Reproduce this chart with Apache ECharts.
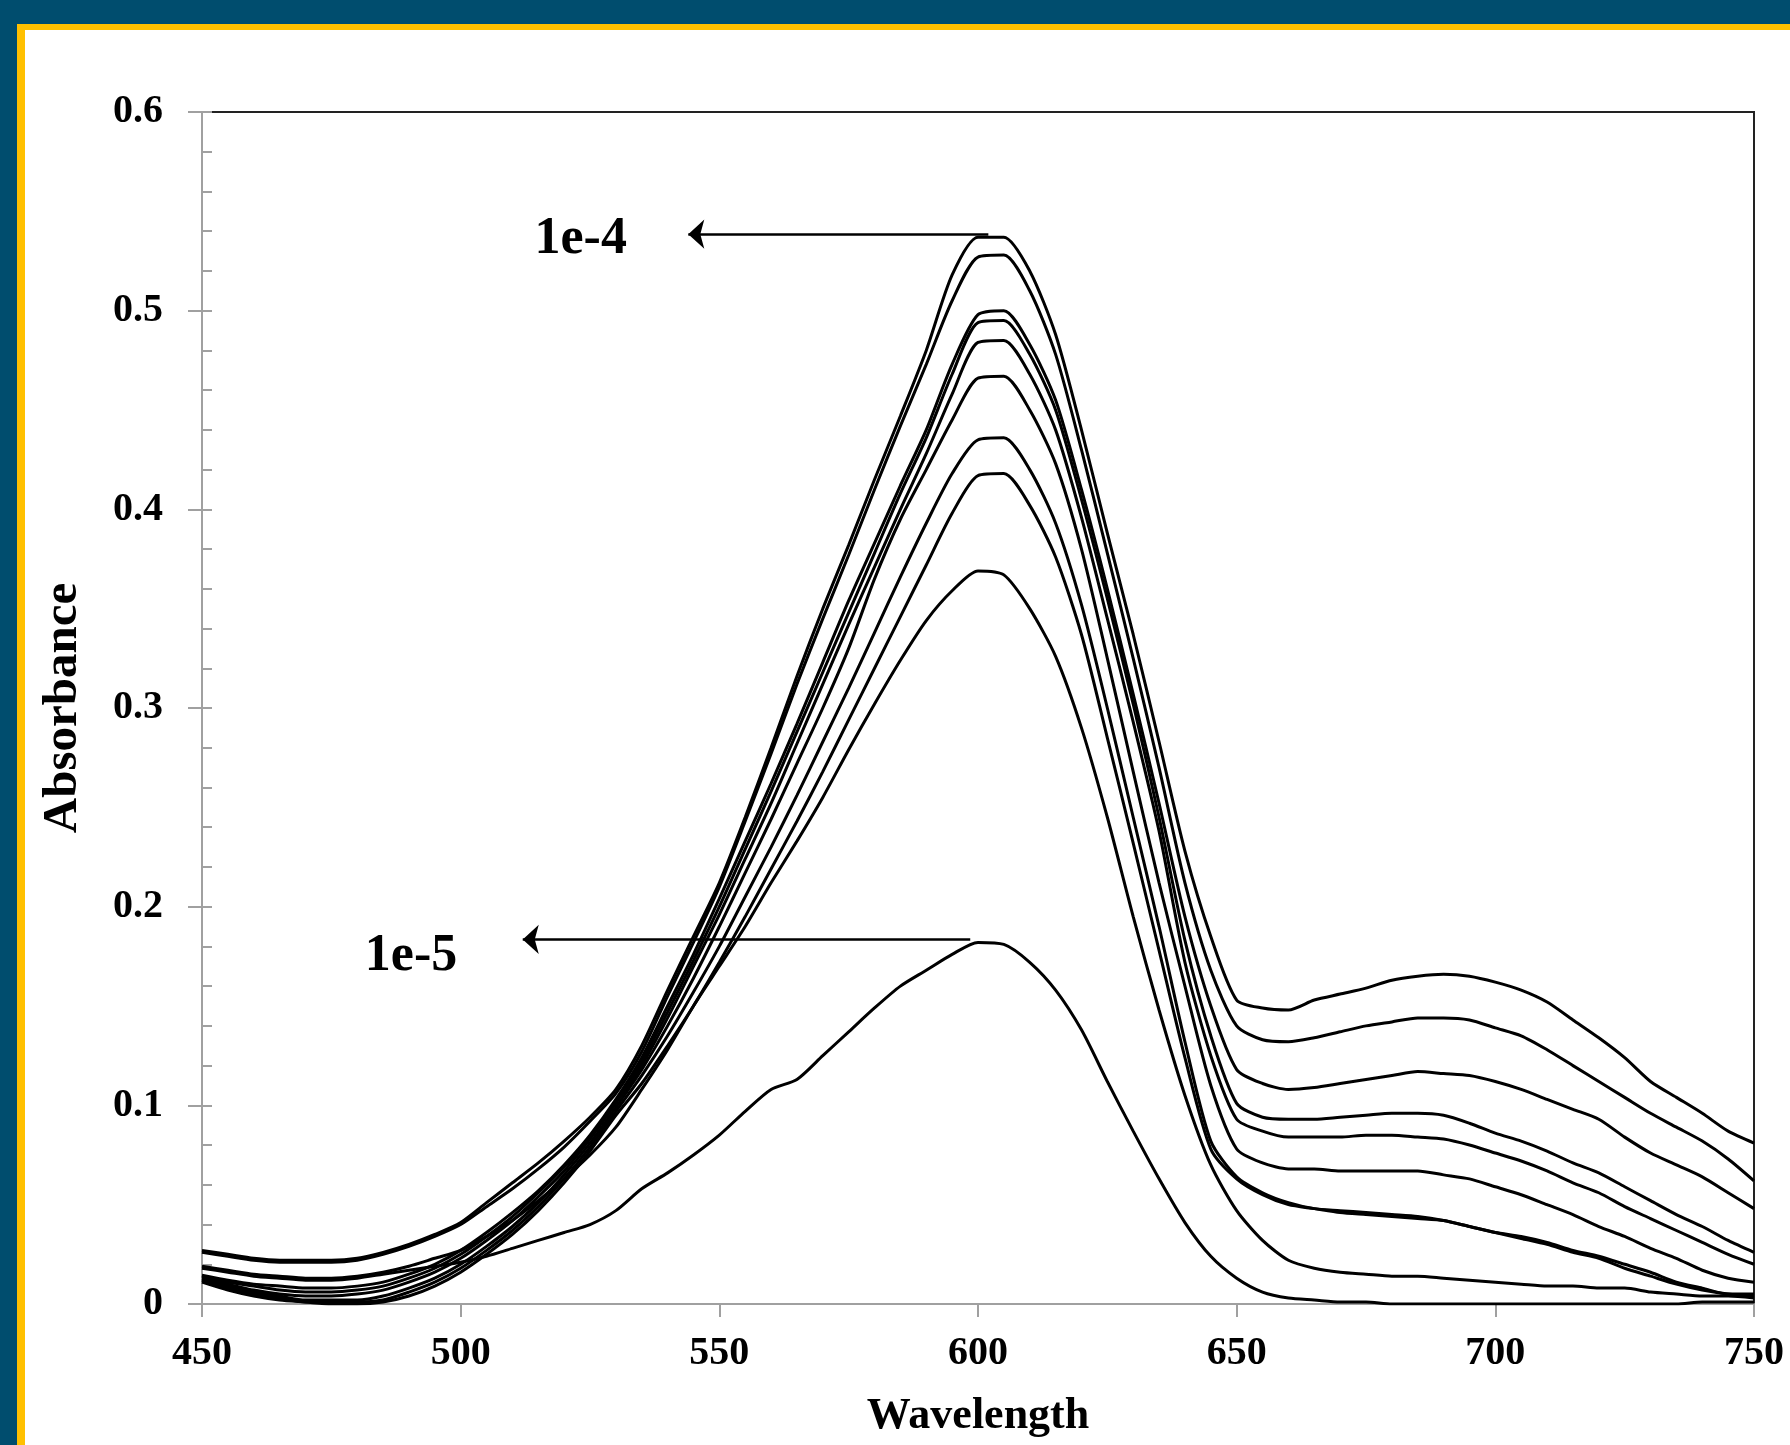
<!DOCTYPE html>
<html>
<head>
<meta charset="utf-8">
<title>Absorbance vs Wavelength</title>
<script src="https://cdn.jsdelivr.net/npm/echarts@6/dist/echarts.min.js"></script>
<style>
  html, body { margin: 0; padding: 0; width: 1790px; height: 1445px; overflow: hidden; background: #004d6e; }
  #frame { position: absolute; left: 17px; top: 24px; right: 0; bottom: 0; background: #ffc000; }
  #paper { position: absolute; left: 25px; top: 30px; right: 0; bottom: 0; background: #fff; }
  #chart { position: absolute; left: 0; top: 0; width: 1790px; height: 1445px; }
</style>
</head>
<body>
<div id="frame"></div>
<div id="paper"></div>
<div id="chart"></div>
<script>
var serif = "'Liberation Serif', 'Times New Roman', serif";

var wavelengths = [450,455,460,465,470,475,480,485,490,495,
                   500,505,510,515,520,525,530,535,540,545,
                   550,555,560,565,570,575,580,585,590,595,
                   600,605,610,615,620,625,630,635,640,645,
                   650,655,660,665,670,675,680,685,690,695,
                   700,705,710,715,720,725,730,735,740,745,
                   750];

// absorbance curves, highest concentration (1e-4) first, lowest (1e-5) last
var c1 = [.027,.025,.023,.022,.022,.022,.023,.026,.030,.035,
          .041,.051,.061,.071,.082,.094,.108,.130,.158,.185,
          .212,.245,.280,.316,.350,.382,.415,.447,.480,.518,
          .537,.537,.520,.488,.440,.388,.337,.283,.228,.185,
          .153,.149,.148,.153,.156,.159,.163,.165,.166,.165,
          .162,.158,.152,.143,.134,.124,.112,.104,.096,.087,
          .081];
var c2 = [.026,.024,.022,.021,.021,.021,.022,.025,.029,.034,
          .040,.049,.058,.068,.079,.092,.106,.127,.155,.182,
          .210,.243,.277,.312,.345,.377,.410,.442,.473,.505,
          .527,.528,.510,.478,.430,.378,.325,.270,.212,.168,
          .140,.133,.132,.134,.137,.140,.142,.144,.144,.143,
          .139,.135,.128,.120,.112,.104,.096,.089,.082,.073,
          .062];
var c3 = [.0145,.012,.010,.009,.008,.008,.009,.011,.015,.020,
          .027,.036,.046,.057,.070,.085,.103,.124,.150,.176,
          .204,.233,.262,.292,.323,.354,.383,.412,.440,.473,
          .498,.500,.483,.455,.410,.360,.307,.252,.195,.150,
          .118,.111,.108,.109,.111,.113,.115,.117,.116,.115,
          .112,.108,.103,.098,.093,.084,.076,.070,.064,.056,
          .048];
var c4 = [.014,.011,.009,.007,.006,.006,.007,.009,.013,.018,
          .025,.034,.044,.056,.069,.084,.102,.122,.147,.173,
          .200,.229,.258,.288,.318,.348,.378,.408,.436,.468,
          .494,.495,.478,.450,.405,.355,.302,.245,.183,.135,
          .101,.094,.093,.093,.094,.095,.096,.096,.095,.091,
          .086,.082,.077,.071,.066,.059,.052,.045,.039,.032,
          .026];
var c5 = [.013,.010,.007,.005,.004,.004,.005,.007,.011,.016,
          .023,.032,.042,.054,.067,.083,.101,.120,.144,.170,
          .196,.224,.252,.282,.312,.342,.371,.400,.428,.458,
          .484,.485,.468,.440,.396,.345,.293,.238,.172,.125,
          .093,.087,.084,.084,.084,.085,.085,.084,.083,.080,
          .076,.072,.067,.061,.056,.049,.043,.037,.031,.025,
          .020];
var c6 = [.012,.009,.006,.004,.002,.002,.002,.004,.008,.013,
          .020,.029,.039,.051,.065,.081,.099,.118,.140,.164,
          .190,.217,.244,.272,.300,.330,.365,.395,.420,.445,
          .466,.467,.450,.423,.380,.325,.268,.212,.160,.110,
          .078,.071,.068,.068,.067,.067,.067,.067,.065,.063,
          .059,.055,.050,.045,.039,.034,.028,.023,.017,.013,
          .011];
var c7 = [.012,.008,.005,.003,.001,.001,.001,.002,.006,.011,
          .018,.027,.037,.049,.063,.079,.097,.115,.135,.157,
          .180,.205,.230,.256,.283,.310,.338,.366,.393,.418,
          .435,.436,.420,.393,.352,.300,.245,.190,.132,.082,
          .064,.056,.051,.048,.047,.046,.045,.044,.042,.039,
          .036,.034,.031,.027,.024,.020,.016,.011,.008,.005,
          .005];
var c8 = [.011,.007,.004,.002,.001,.000,.000,.001,.004,.009,
          .016,.025,.035,.047,.061,.077,.095,.111,.130,.150,
          .172,.195,.219,.243,.268,.294,.320,.346,.372,.398,
          .417,.418,.402,.376,.337,.285,.232,.178,.124,.078,
          .063,.055,.050,.048,.046,.045,.044,.043,.042,.039,
          .036,.033,.030,.026,.023,.018,.014,.010,.007,.005,
          .004];
var c9 = [.019,.017,.015,.014,.013,.013,.014,.016,.019,.023,
          .027,.034,.042,.052,.063,.075,.089,.108,.128,.150,
          .170,.190,.212,.233,.255,.279,.302,.324,.344,.359,
          .369,.367,.350,.326,.290,.245,.195,.148,.105,.070,
          .047,.032,.022,.018,.016,.015,.014,.014,.013,.012,
          .011,.010,.009,.009,.008,.008,.006,.005,.004,.004,
          .003];
var c10 = [.018,.016,.014,.013,.012,.012,.013,.015,.017,.019,
           .021,.024,.028,.032,.036,.040,.047,.058,.066,.075,
           .085,.097,.108,.113,.125,.137,.149,.160,.168,.176,
           .182,.181,.172,.158,.138,.112,.087,.063,.041,.024,
           .013,.006,.003,.002,.001,.001,.000,.000,.000,.000,
           .000,.000,.000,.000,.000,.000,.000,.000,.001,.001,
           .001];

// annotation arrows: [from wavelength, to wavelength, absorbance]
var arrows = [[602, 544, 0.5385], [598.5, 512, 0.1835]];
var noteText = ['1e-4', '1e-5'];
var notePos = [[523.2, 0.5356], [490.4, 0.1748]];

var curves = [c1, c2, c3, c4, c5, c6, c7, c8, c9, c10];

var series = curves.map(function (vals, i) {
  return {
    name: 'curve' + (i + 1),
    type: 'line',
    data: wavelengths.map(function (w, j) { return [w, vals[j]]; }),
    showSymbol: false,
    smooth: 0.25,
    silent: true,
    lineStyle: { color: '#000', width: 3 },
    z: 3
  };
});

series[0].markLine = {
  silent: true,
  symbol: ['none', 'arrow'],
  symbolSize: [22, 16],
  label: { show: false },
  lineStyle: { color: '#000', width: 2.5, type: 'solid' },
  data: arrows.map(function (a) {
    return [{ coord: [a[0], a[2]] }, { coord: [a[1], a[2]] }];
  })
};

// text notes next to the arrows
series.push({
  type: 'custom',
  silent: true,
  z: 5,
  data: notePos,
  renderItem: function (params, api) {
    var p = api.coord([api.value(0), api.value(1)]);
    return {
      type: 'text',
      x: p[0], y: p[1],
      style: {
        text: noteText[params.dataIndex],
        fill: '#000',
        font: 'bold 52px ' + serif,
        align: 'center',
        verticalAlign: 'middle'
      }
    };
  }
});

var gray = '#a0a0a0';
var chart = echarts.init(document.getElementById('chart'));
var option = {
  animation: false,
  grid: {
    left: 202, top: 112, width: 1552, height: 1192,
    show: true, borderColor: '#222', borderWidth: 2, backgroundColor: 'transparent'
  },
  xAxis: {
    type: 'value', min: 450, max: 750, interval: 50,
    name: 'Wavelength', nameLocation: 'middle', nameGap: 91,
    nameTextStyle: { color: '#000', fontFamily: serif, fontWeight: 'bold', fontSize: 44 },
    axisLine: { lineStyle: { color: gray, width: 2 } },
    axisTick: { show: true, length: 13, lineStyle: { color: gray, width: 2 } },
    axisLabel: { color: '#000', fontFamily: serif, fontWeight: 'bold', fontSize: 40, margin: 30 },
    splitLine: { show: false }
  },
  yAxis: [{
    type: 'value', min: 0, max: 0.6, interval: 0.1, position: 'left',
    name: 'Absorbance', nameLocation: 'middle', nameGap: 114,
    nameTextStyle: { color: '#000', fontFamily: serif, fontWeight: 'bold', fontSize: 49 },
    axisLine: { show: true, lineStyle: { color: gray, width: 2 } },
    axisTick: { show: true, length: 14, lineStyle: { color: gray, width: 2 } },
    axisLabel: { color: '#000', fontFamily: serif, fontWeight: 'bold', fontSize: 40, margin: 39 },
    splitLine: { show: false }
  }, {
    type: 'value', min: 0, max: 0.6, interval: 0.1, position: 'left',
    axisLine: { show: false },
    axisTick: { show: true, inside: true, length: 10, lineStyle: { color: gray, width: 2 } },
    minorTick: { show: true, splitNumber: 5, length: 10, lineStyle: { color: gray, width: 2 } },
    axisLabel: { show: false },
    splitLine: { show: false }
  }],
  series: series
};
chart.setOption(option);
</script>
</body>
</html>
